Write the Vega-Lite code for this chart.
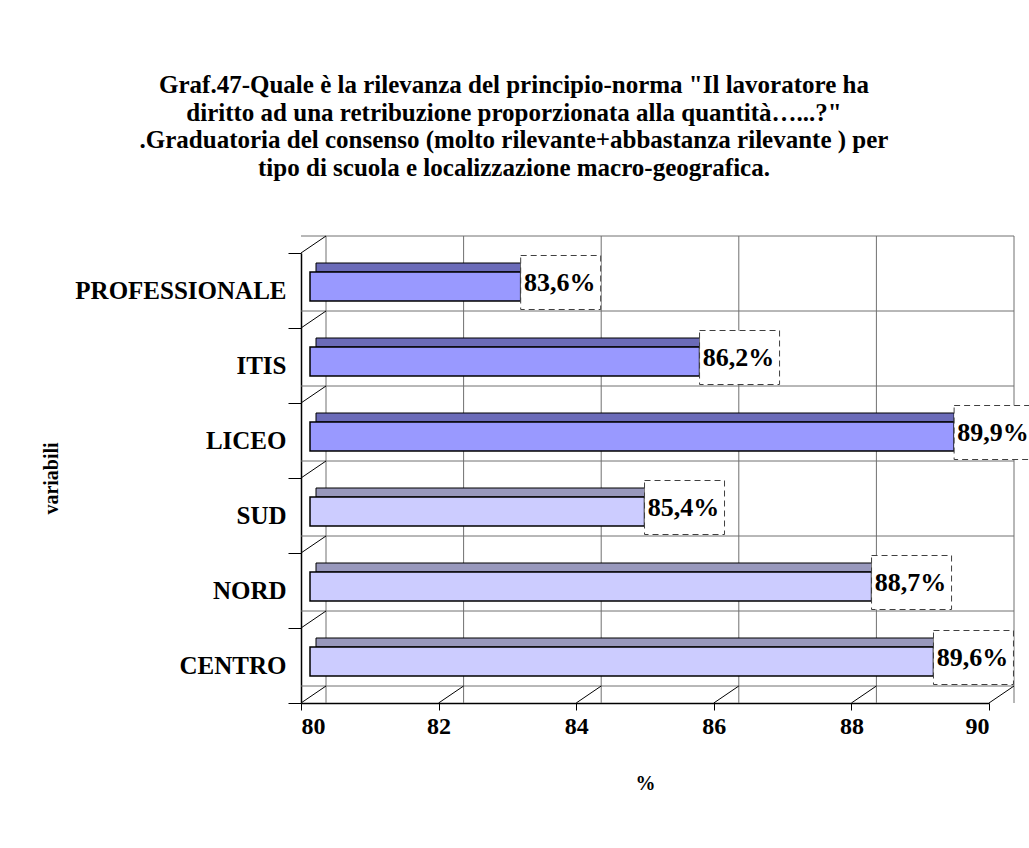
{
  "$schema": "https://vega.github.io/schema/vega-lite/v6.json",
  "width": 688,
  "height": 450,
  "autosize": {"type": "none"},
  "padding": {"left": 301, "top": 253, "right": 40, "bottom": 145},
  "background": "white",
  "config": {"view": {"stroke": null}, "font": "Liberation Serif"},
  "title": {
    "text": [
      "Graf.47-Quale è la rilevanza del principio-norma \"Il lavoratore ha",
      "diritto ad una retribuzione proporzionata alla quantità…...?\"",
      ".Graduatoria del consenso (molto rilevante+abbastanza rilevante ) per",
      "tipo di scuola e localizzazione macro-geografica."
    ],
    "font": "Liberation Serif",
    "fontSize": 25,
    "fontWeight": "bold",
    "lineHeight": 27.5,
    "anchor": "middle",
    "frame": "group",
    "dx": -131,
    "offset": 55,
    "color": "black"
  },
  "datasets": {
    "bars": [
      {"cat": "PROFESSIONALE", "value": 83.6, "label": "83,6%", "group": "scuola"},
      {"cat": "ITIS", "value": 86.2, "label": "86,2%", "group": "scuola"},
      {"cat": "LICEO", "value": 89.9, "label": "89,9%", "group": "scuola"},
      {"cat": "SUD", "value": 85.4, "label": "85,4%", "group": "area"},
      {"cat": "NORD", "value": 88.7, "label": "88,7%", "group": "area"},
      {"cat": "CENTRO", "value": 89.6, "label": "89,6%", "group": "area"}
    ],
    "ticks": [{"t": 80}, {"t": 82}, {"t": 84}, {"t": 86}, {"t": 88}, {"t": 90}],
    "one": [{"k": 1}]
  },
  "layer": [
    {
      "data": {"name": "ticks"},
      "mark": {"type": "rule", "color": "#707070", "strokeWidth": 1, "xOffset": 25, "yOffset": -17, "y2Offset": -17},
      "encoding": {
        "x": {"field": "t", "type": "quantitative", "scale": {"domain": [80, 90], "nice": false, "zero": false}}
      }
    },
    {
      "data": {"name": "bars"},
      "mark": {"type": "rule", "color": "#707070", "strokeWidth": 1, "xOffset": 25, "x2Offset": 25, "yOffset": -17},
      "encoding": {
        "y": {"field": "cat", "type": "nominal", "sort": null, "bandPosition": 0}
      }
    },
    {
      "data": {"name": "one"},
      "mark": {"type": "rule", "color": "#707070", "strokeWidth": 1, "xOffset": 25, "x2Offset": 25, "yOffset": -17},
      "encoding": {
        "y": {"datum": "CENTRO", "type": "nominal", "bandPosition": 1}
      }
    },
    {
      "data": {"name": "bars"},
      "mark": {"type": "rule", "color": "black", "strokeWidth": 1, "x2Offset": 25, "y2Offset": -17},
      "encoding": {
        "x": {"datum": 80, "type": "quantitative"},
        "x2": {"datum": 80},
        "y": {"field": "cat", "type": "nominal", "sort": null, "bandPosition": 0},
        "y2": {"field": "cat", "bandPosition": 0}
      }
    },
    {
      "data": {"name": "ticks"},
      "mark": {"type": "rule", "color": "black", "strokeWidth": 1, "x2Offset": 25, "y2Offset": -17},
      "encoding": {
        "x": {"field": "t", "type": "quantitative"},
        "x2": {"field": "t"},
        "y": {"datum": "CENTRO", "type": "nominal", "bandPosition": 1},
        "y2": {"datum": "CENTRO", "bandPosition": 1}
      }
    },
    {
      "data": {"name": "bars"},
      "mark": {"type": "bar", "height": 9, "yOffset": -23, "xOffset": -28, "x2Offset": 15, "stroke": "black", "strokeWidth": 1},
      "encoding": {
        "x": {"field": "value", "type": "quantitative"},
        "x2": {"datum": 80},
        "y": {"field": "cat", "type": "nominal", "sort": null},
        "fill": {"condition": {"test": "datum.group === 'scuola'", "value": "#6B6BB8"}, "value": "#9898BC"}
      }
    },
    {
      "data": {"name": "bars"},
      "mark": {"type": "bar", "height": 29, "yOffset": -4, "xOffset": -28, "x2Offset": 9, "stroke": "black", "strokeWidth": 1.5},
      "encoding": {
        "x": {
          "field": "value",
          "type": "quantitative",
          "scale": {"domain": [80, 90], "nice": false, "zero": false},
          "axis": {
            "values": [80, 82, 84, 86, 88, 90],
            "format": "d",
            "title": "%",
            "grid": false,
            "domainColor": "black",
            "domainWidth": 1.5,
            "tickColor": "black",
            "tickSize": 7,
            "labelFont": "Liberation Serif",
            "labelFontSize": 24,
            "labelFontWeight": "bold",
            "labelColor": "black",
            "labelPadding": 4,
            "titleFont": "Liberation Serif",
            "titleFontSize": 20,
            "titleFontWeight": "bold",
            "titleColor": "black",
            "titlePadding": 35
          }
        },
        "x2": {"datum": 80},
        "y": {
          "field": "cat",
          "type": "nominal",
          "sort": null,
          "scale": {"paddingInner": 0, "paddingOuter": 0},
          "axis": {
            "title": "variabili",
            "tickBand": "extent",
            "tickSize": 13,
            "domainColor": "black",
            "domainWidth": 1.5,
            "tickColor": "black",
            "labelFont": "Liberation Serif",
            "labelFontSize": 25,
            "labelFontWeight": "bold",
            "labelColor": "black",
            "labelLimit": 400,
            "labelPadding": 2,
            "titleFont": "Liberation Serif",
            "titleFontSize": 20,
            "titleFontWeight": "bold",
            "titleColor": "black",
            "titlePadding": 40
          }
        },
        "fill": {"condition": {"test": "datum.group === 'scuola'", "value": "#9999FF"}, "value": "#CCCCFF"}
      }
    },
    {
      "data": {"name": "bars"},
      "mark": {"type": "bar", "height": 54, "yOffset": -8, "xOffset": -28, "x2Offset": 52, "fill": "white", "stroke": "#404040", "strokeWidth": 1, "strokeDash": [6, 4]},
      "encoding": {
        "x": {"field": "value", "type": "quantitative"},
        "x2": {"field": "value"},
        "y": {"field": "cat", "type": "nominal", "sort": null}
      }
    },
    {
      "data": {"name": "bars"},
      "mark": {"type": "text", "xOffset": 11, "yOffset": -8, "align": "center", "baseline": "middle", "font": "Liberation Serif", "fontSize": 26, "fontWeight": "bold", "color": "black"},
      "encoding": {
        "x": {"field": "value", "type": "quantitative"},
        "y": {"field": "cat", "type": "nominal", "sort": null},
        "text": {"field": "label"}
      }
    }
  ]
}
